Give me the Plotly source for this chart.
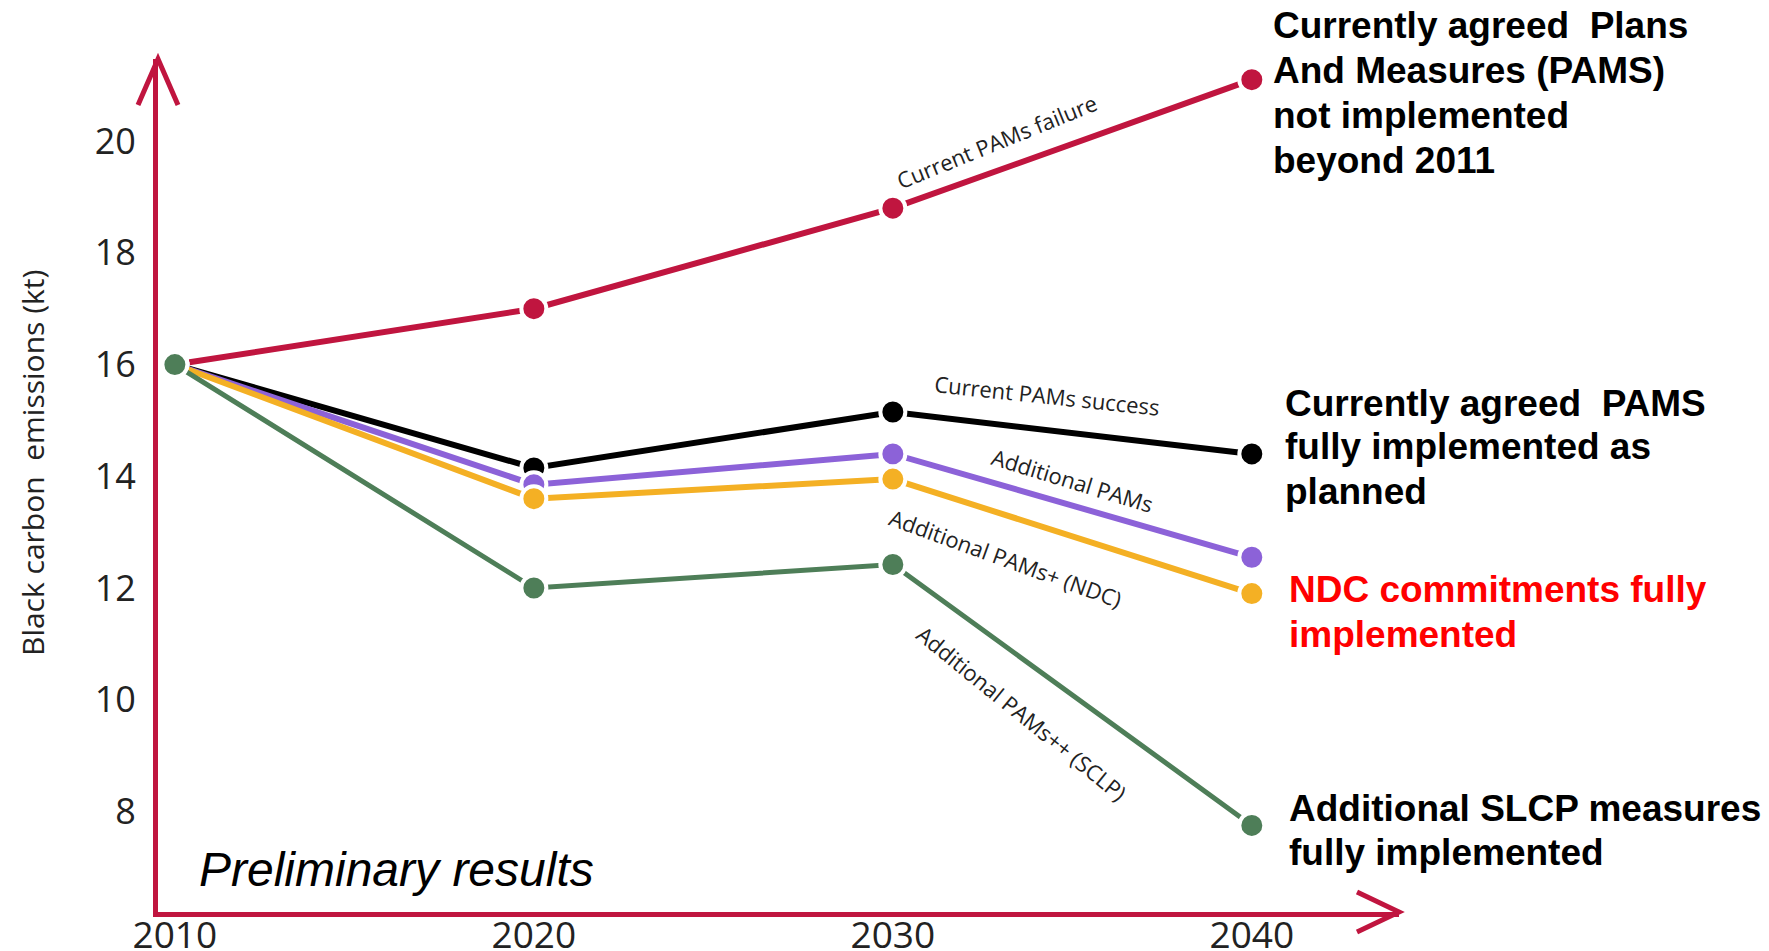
import plotly.graph_objects as go

years = [2010, 2020, 2030, 2040]
pams_failure = [16.0, 17.0, 18.8, 21.1]
pams_success = [16.0, 14.15, 15.15, 14.4]
additional_pams = [16.0, 13.85, 14.4, 12.55]
additional_ndc = [16.0, 13.6, 13.95, 11.9]
additional_sclp = [16.0, 12.0, 12.42, 7.75]

y_ticks = [8, 10, 12, 14, 16, 18, 20]
x_ticks = [2010, 2020, 2030, 2040]

AXIS = "#C0153F"
series = [
    ("Current PAMs failure", pams_failure, "#C0153F", 6),
    ("Current PAMs success", pams_success, "#000000", 6),
    ("Additional PAMs", additional_pams, "#8C62D8", 6),
    ("Additional PAMs+ (NDC)", additional_ndc, "#F4B024", 6),
    ("Additional PAMs++ (SCLP)", additional_sclp, "#4E7E58", 5),
]

X0, X1 = 2009.53, 2044.1
Y0, Y1 = 6.2, 21.47
L, R, T, B = 158, 1399, 59, 912
W, H = 1769, 951


def px(x):
    return (x - L) / (R - L)


def py(y):
    return (B - y) / (B - T)


fig = go.Figure()
for name, vals, col, w in series:
    fig.add_trace(go.Scatter(
        x=years, y=vals, mode="lines+markers", name=name,
        line=dict(color=col, width=w),
        marker=dict(size=25, color=col, line=dict(color="white", width=4)),
        cliponaxis=False,
    ))

LBL = dict(family="Open Sans", size=22, color="#222222")
ann = []
for text, x, y, ang in [
    ("Current PAMs failure", 2032.9, 20.0, -22),
    ("Current PAMs success", 2034.3, 15.45, 6),
    ("Additional PAMs", 2035.0, 13.94, 17),
    ("Additional PAMs+ (NDC)", 2033.15, 12.53, 20),
    ("Additional PAMs++ (SCLP)", 2033.6, 9.76, 39),
]:
    ann.append(dict(x=x, y=y, xref="x", yref="y", text=text, showarrow=False,
                    textangle=ang, font=LBL))

# right-hand explanatory text, one annotation per line
blocks = [
    (1271, [25, 70, 115, 160], ["Currently agreed  Plans", "And Measures (PAMS)",
                                "not implemented", "beyond 2011"], "black"),
    (1283, [403, 447, 491], ["Currently agreed  PAMS", "fully implemented as", "planned"], "black"),
    (1287, [589, 634], ["NDC commitments fully", "implemented"], "#FF0000"),
    (1287, [808, 852], ["Additional SLCP measures", "fully implemented"], "black"),
]
for xpix, ys, lines, col in blocks:
    for ypix, line in zip(ys, lines):
        ann.append(dict(x=px(xpix), y=py(ypix), xref="paper", yref="paper",
                        text="<b>" + line.replace("  ", "&nbsp; ") + "</b>", showarrow=False,
                        xanchor="left", yanchor="middle", align="left",
                        font=dict(family="Liberation Sans, Arial", size=37, color=col)))

ann.append(dict(x=px(197), y=py(869), xref="paper", yref="paper",
                text="<i>Preliminary results</i>",
                showarrow=False, xanchor="left", yanchor="middle",
                font=dict(family="Liberation Sans, Arial", size=48, color="black")))
ann.append(dict(x=px(32), y=py(463), xref="paper", yref="paper", xanchor="center", yanchor="middle",
                text="Black carbon&nbsp; emissions (kt)", textangle=-90, showarrow=False,
                font=dict(family="Open Sans", size=30, color="#222222")))

shapes = [
    dict(type="path", xref="paper", yref="paper", xsizemode="pixel", ysizemode="pixel",
         xanchor=0, yanchor=1, path="M -20,-46 L 0,0 L 20,-46",
         line=dict(color=AXIS, width=5)),
    dict(type="path", xref="paper", yref="paper", xsizemode="pixel", ysizemode="pixel",
         xanchor=1, yanchor=0, path="M -42,-20 L 0,0 L -42,20",
         line=dict(color=AXIS, width=5)),
]

fig.update_layout(
    width=W, height=H, autosize=False,
    margin=dict(l=L, r=W - R, t=T, b=H - B, autoexpand=False),
    plot_bgcolor="white", paper_bgcolor="white",
    showlegend=False,
    annotations=ann, shapes=shapes,
    xaxis=dict(range=[X0, X1], tickvals=x_ticks, showgrid=False, zeroline=False,
               showline=True, linecolor=AXIS, linewidth=5, ticks="", automargin=False,
               ticklabelstandoff=-13,
               tickfont=dict(family="Open Sans", size=37, color="#222222")),
    yaxis=dict(range=[Y0, Y1], tickvals=y_ticks, showgrid=False, zeroline=False,
               showline=True, linecolor=AXIS, linewidth=5, ticks="", automargin=False,
               ticklabelstandoff=10,
               tickfont=dict(family="Open Sans", size=36, color="#222222")),
)

fig.write_html("out.html")
